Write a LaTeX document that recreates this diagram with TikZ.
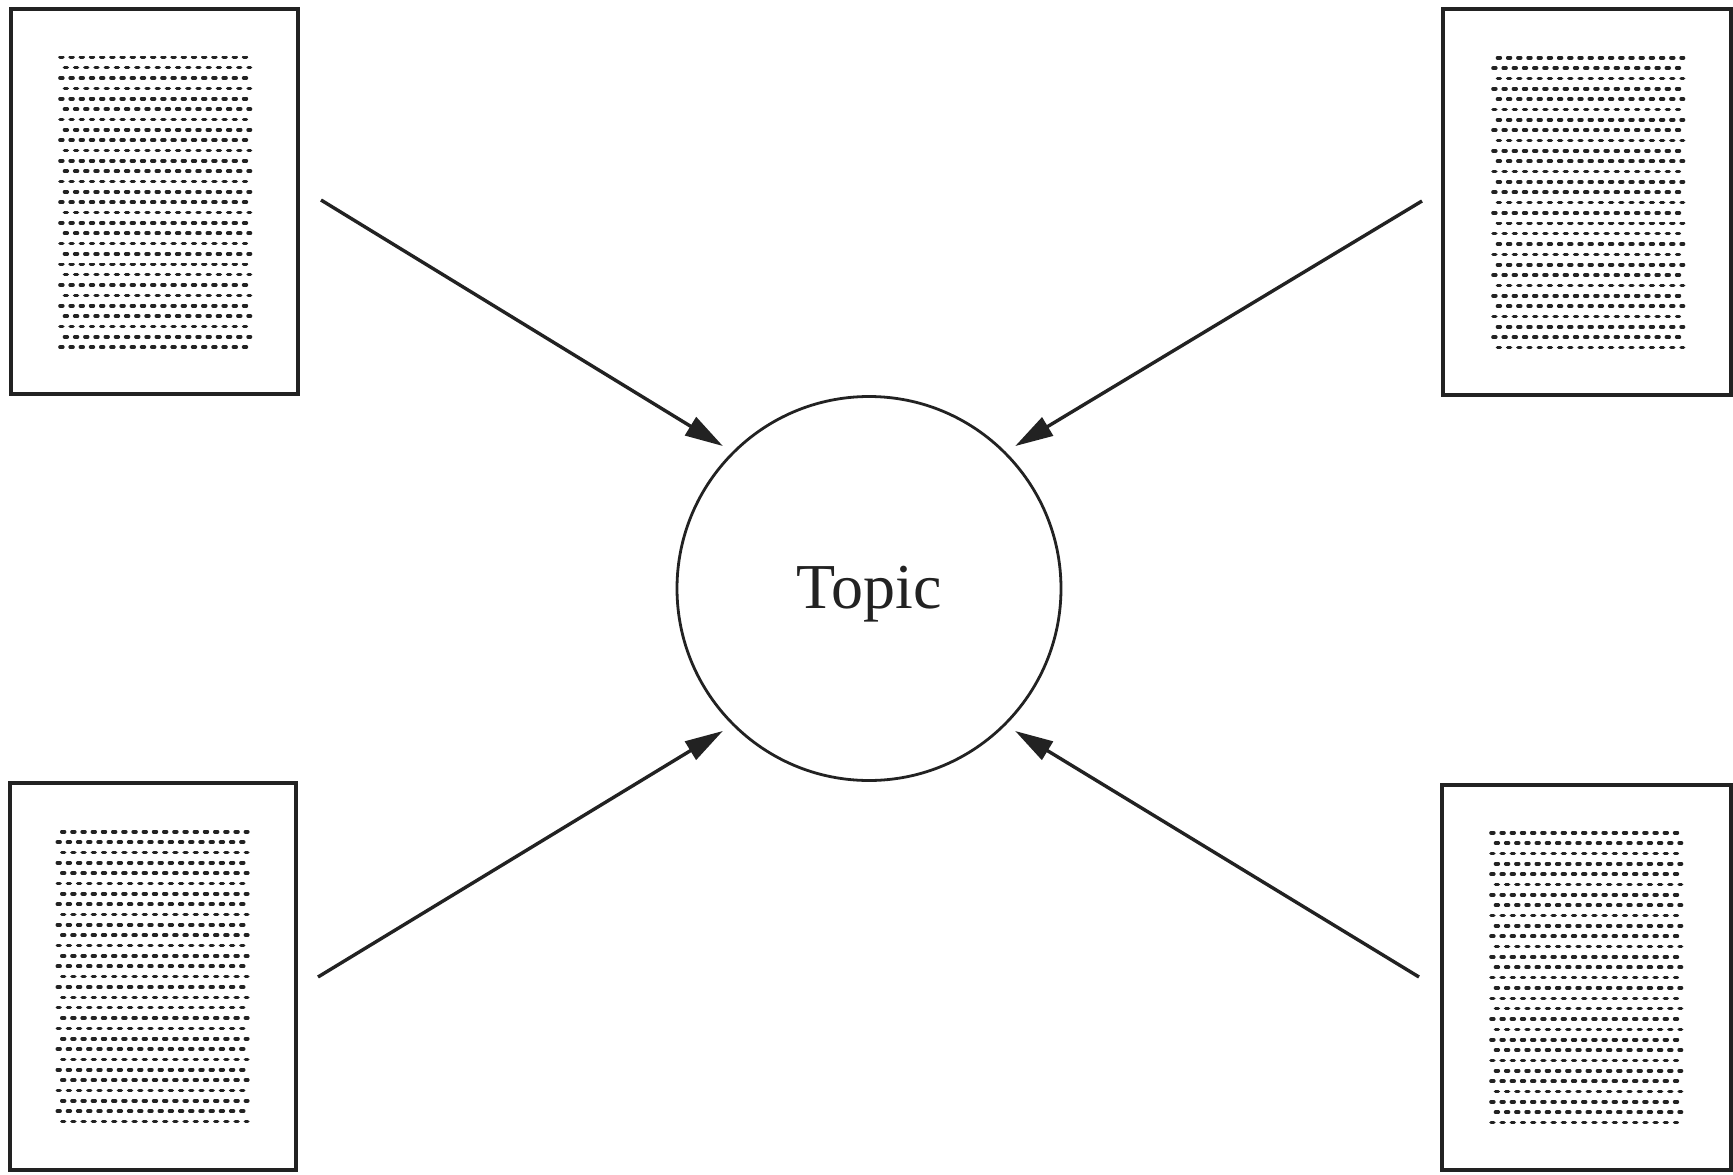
\documentclass[tikz,border=0pt]{standalone}
\usepackage{fontspec}
\setmainfont{Liberation Serif}
\usetikzlibrary{arrows.meta}
\definecolor{ink}{HTML}{222222}
\tikzset{
  docbox/.style={draw=ink, line width=3.2pt, inner sep=0pt},
  dotrow/.style={line width=3.6pt, line cap=round, dash pattern=on 2.8pt off 7.4pt, ink},
  link/.style={line width=3.4pt, draw=ink, -{Triangle[length=38pt,width=21pt]}, shorten >=11pt},
  topicnode/.style={circle, draw=ink, line width=2.8pt, minimum size=384pt, inner sep=0pt},
}
% #1 name, #2 x0, #3 y0, #4 x1, #5 y1, #6 dots left x, #7 dots top y, #8 first row shifted (0/1)
\newcommand{\mydocpage}[8]{%
  \node[docbox, minimum width={#4pt-#2pt}, minimum height={#5pt-#3pt}] (#1) at ({(#2+#4)/2},{(#3+#5)/2}) {};
  \foreach \r in {0,...,28} {
    \pgfmathsetmacro\yy{#7+\r*10.35}
    \pgfmathtruncatemacro\odd{mod(\r+#8,2)}
    \ifnum\odd=1
      \draw[dotrow] (#6+4.5,\yy) -- ++(186,0);
    \else
      \draw[dotrow] (#6,\yy) -- ++(186.5,0);
    \fi
  }
}
\begin{document}
\begin{tikzpicture}[x=1pt,y=-1pt]
\useasboundingbox[fill=white] (0,0) rectangle (1733,1175);
\mydocpage{tl}{11}{9}{298}{394}{60}{57.3}{0}
\mydocpage{tr}{1443}{9}{1731}{395}{1493}{57.7}{1}
\mydocpage{bl}{10}{783}{296}{1170}{57.3}{831.7}{1}
\mydocpage{br}{1442}{785}{1731}{1170}{1491}{832.7}{0}
\node[topicnode] (topic) at (869,588.5) {};
\node[anchor=base, font=\fontsize{64}{76}\selectfont, text=ink] (label) at (869,608) {Topic};
\coordinate (s1) at (321,200);
\coordinate (s2) at (1422,201);
\coordinate (s3) at (318,977);
\coordinate (s4) at (1419,977);
\draw[link] (s1) -- (topic.135);
\draw[link] (s2) -- (topic.45);
\draw[link] (s3) -- (topic.225);
\draw[link] (s4) -- (topic.315);
\end{tikzpicture}
\end{document}
